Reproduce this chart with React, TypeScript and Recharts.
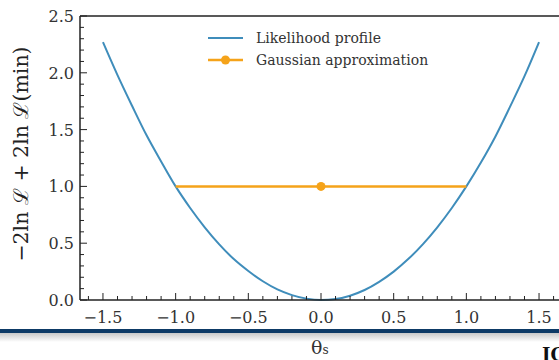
import React from 'react';
import { ComposedChart, Line, XAxis, YAxis, ReferenceLine } from 'recharts';

// likelihood profile
const thetaValues = [-1.5, -1.4, -1.3, -1.2, -1.1, -1.0, -0.9, -0.8, -0.7, -0.6, -0.5, -0.4, -0.3, -0.2, -0.1, 0.0,
  0.1, 0.2, 0.3, 0.4, 0.5, 0.6, 0.7, 0.8, 0.9, 1.0, 1.1, 1.2, 1.3, 1.4, 1.5];
const profileValues = [2.27, 1.98, 1.71, 1.45, 1.22, 1.0, 0.81, 0.64, 0.49, 0.36, 0.255, 0.165, 0.093, 0.043, 0.012, 0.0,
  0.008, 0.038, 0.088, 0.16, 0.25, 0.36, 0.49, 0.64, 0.81, 1.0, 1.21, 1.44, 1.7, 1.97, 2.27];

// gaussian approximation: interval at delta = 1 with best fit point
const gaussTheta = [-1.0, 0.0, 1.0];
const gaussValues = [1.0, 1.0, 1.0];
const bestFit = 0.0;

const xTicks = [-1.6, -1.5, -1.4, -1.3, -1.2, -1.1, -1.0, -0.9, -0.8, -0.7, -0.6, -0.5, -0.4, -0.3, -0.2, -0.1, 0.0,
  0.1, 0.2, 0.3, 0.4, 0.5, 0.6, 0.7, 0.8, 0.9, 1.0, 1.1, 1.2, 1.3, 1.4, 1.5, 1.6];
const yTicks = [0.0, 0.1, 0.2, 0.3, 0.4, 0.5, 0.6, 0.7, 0.8, 0.9, 1.0, 1.1, 1.2, 1.3, 1.4, 1.5, 1.6, 1.7, 1.8, 1.9,
  2.0, 2.1, 2.2, 2.3, 2.4, 2.5];

const profileData = thetaValues.map((t, i) => ({ theta: t, value: profileValues[i] }));
const gaussData = gaussTheta.map((t, i) => ({ theta: t, value: gaussValues[i] }));

const BLUE = '#3f8dbb';
const ORANGE = '#f5a31a';
const AXIS = '#222';
const FONT = '"DejaVu Serif", serif';

const isMajor = (v: number) => Math.abs(v * 2 - Math.round(v * 2)) < 1e-6;
const fmt = (v: number) => (v < -1e-9 ? '\u2212' + Math.abs(v).toFixed(1) : Math.abs(v).toFixed(1));

const XTick = (props: any) => {
  const { x, y, payload } = props;
  const major = isMajor(payload.value);
  return (
    <g>
      <line x1={x} x2={x} y1={y} y2={y - (major ? 7 : 4)} stroke={AXIS} strokeWidth={1} />
      {major && (
        <text x={x} y={y + 23} textAnchor="middle" fontFamily={FONT} fontSize={16} fill="#333">
          {fmt(payload.value)}
        </text>
      )}
    </g>
  );
};

const YTick = (props: any) => {
  const { x, y, payload } = props;
  const major = isMajor(payload.value);
  return (
    <g>
      <line x1={x} x2={x + (major ? 7 : 4)} y1={y} y2={y} stroke={AXIS} strokeWidth={1} />
      {major && (
        <text x={x - 6} y={y + 6} textAnchor="end" fontFamily={FONT} fontSize={16} fill="#333">
          {fmt(payload.value)}
        </text>
      )}
    </g>
  );
};

const BestFitDot = (props: any) => {
  const { cx, cy, payload } = props;
  if (payload.theta !== bestFit) return <g key={props.key} />;
  return <circle key={props.key} cx={cx} cy={cy} r={4.5} fill={ORANGE} />;
};

const LegendBox = () => (
  <div style={{ fontFamily: FONT, fontSize: 14, color: '#333', lineHeight: '22px' }}>
    <div style={{ display: 'flex', alignItems: 'center' }}>
      <svg width={48} height={22}>
        <line x1={0} x2={35} y1={11} y2={11} stroke={BLUE} strokeWidth={2} />
      </svg>
      <span>Likelihood profile</span>
    </div>
    <div style={{ display: 'flex', alignItems: 'center' }}>
      <svg width={48} height={22}>
        <line x1={0} x2={35} y1={11} y2={11} stroke={ORANGE} strokeWidth={2.5} />
        <circle cx={17.5} cy={11} r={4.5} fill={ORANGE} />
      </svg>
      <span>Gaussian approximation</span>
    </div>
  </div>
);

export default function App() {
  return (
    <div style={{ position: 'absolute', left: 0, top: 0, width: 559, height: 360, overflow: 'hidden', background: '#fff' }}>
      <ComposedChart width={562} height={330} margin={{ top: 16, right: 0, left: 0, bottom: 0 }}>
        <XAxis
          dataKey="theta"
          type="number"
          domain={[-1.658, 1.658]}
          ticks={xTicks}
          interval={0}
          allowDataOverflow
          height={30}
          tickSize={0}
          tickMargin={0}
          tickLine={false}
          tick={<XTick />}
          axisLine={{ stroke: AXIS, strokeWidth: 1.5 }}
        />
        <YAxis
          type="number"
          domain={[0, 2.5]}
          ticks={yTicks}
          interval={0}
          width={80}
          tickSize={0}
          tickMargin={0}
          tickLine={false}
          tick={<YTick />}
          axisLine={{ stroke: AXIS, strokeWidth: 1.5 }}
        />
        <ReferenceLine y={2.5} stroke={AXIS} strokeWidth={1.5} ifOverflow="visible" />
        <Line
          data={profileData}
          dataKey="value"
          type="monotone"
          stroke={BLUE}
          strokeWidth={2}
          dot={false}
          isAnimationActive={false}
        />
        <Line
          data={gaussData}
          dataKey="value"
          type="linear"
          stroke={ORANGE}
          strokeWidth={2.5}
          dot={<BestFitDot />}
          activeDot={false}
          isAnimationActive={false}
        />
      </ComposedChart>
      <div style={{ position: 'absolute', left: 208, top: 27 }}>
        <LegendBox />
      </div>
      <svg style={{ position: 'absolute', left: 0, top: 0 }} width={60} height={330}>
        <text
          x={0}
          y={0}
          transform="translate(28,154) rotate(-90)"
          textAnchor="middle"
          fontFamily={FONT}
          fontSize={20.5}
          fill="#222"
        >
          {'\u22122ln \u2112 + 2ln \u2112(min)'}
        </text>
      </svg>
      <div style={{ position: 'absolute', left: 0, top: 329, width: 559, height: 4, background: '#0d3a66' }} />
      <div
        style={{
          position: 'absolute',
          left: 0,
          top: 333,
          width: 559,
          height: 9,
          background: 'linear-gradient(#c8c8c8, #ffffff)',
        }}
      />
      <div style={{ position: 'absolute', left: 311, top: 336, fontFamily: FONT, fontSize: 19, color: '#333' }}>
        {'\u03b8'}
        <span style={{ fontSize: 12 }}>s</span>
      </div>
      <div style={{ position: 'absolute', left: 542, top: 344, fontFamily: FONT, fontSize: 18, fontWeight: 'bold', color: '#111' }}>
        IC
      </div>
    </div>
  );
}
